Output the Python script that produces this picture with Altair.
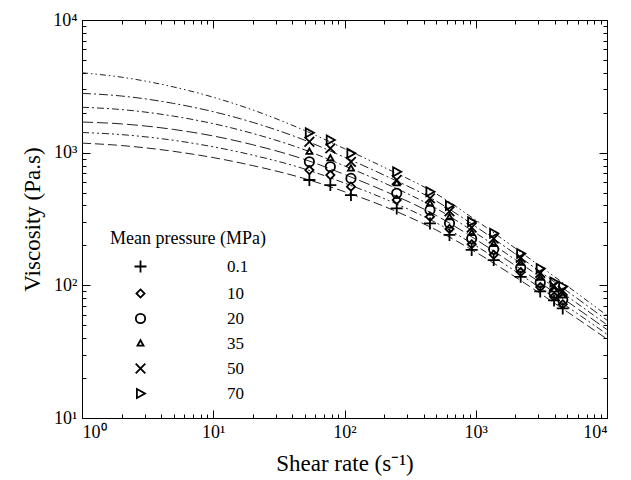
import altair as alt
import pandas as pd

# ---------------- data ----------------
pressures = ["0.1", "10", "20", "35", "50", "70"]

# fitted curves (dashed lines)
shear_curve = [1, 2, 5, 10, 20, 50, 100, 200, 500, 1000, 2000, 5000, 10000]
curve_01 = [1180, 1132, 1023, 918, 799, 636, 508, 394, 261, 178, 115.6, 63, 39.4]
curve_10 = [1419, 1368, 1239, 1107, 958, 752, 590, 451, 296, 199, 128, 69, 42.8]
curve_20 = [1702, 1648, 1496, 1336, 1147, 887, 685, 516, 336, 222, 141, 75.3, 46.4]
curve_35 = [2198, 2113, 1884, 1655, 1396, 1048, 795, 592, 380, 248, 156, 82.4, 50.4]
curve_50 = [2800, 2673, 2350, 2037, 1692, 1239, 923, 678, 432, 277, 172.6, 90, 54.6]
curve_70 = [4000, 3707, 3126, 2618, 2099, 1466, 1072, 776, 490, 310, 190.5, 98.5, 59.3]

# measured points (markers)
shear_data = [54, 78, 112, 250, 448, 631, 931, 1370, 2200, 3100, 3950, 4600]
data_01 = [622, 570, 479, 380, 293, 240, 185, 155, 116, 90, 77, 67]
data_10 = [739, 678, 554, 440, 329, 266, 204, 170, 126, 97, 82, 72]
data_20 = [854, 783, 640, 494, 369, 294, 225, 187, 136, 105, 87.5, 78]
data_35 = [1016, 906, 760, 588, 414, 326, 248, 205, 148, 114, 93, 84]
data_50 = [1208, 1077, 853, 622, 452, 361, 273, 225, 161, 124, 99, 91]
data_70 = [1413, 1245, 988, 718, 507, 400, 301, 247, 174, 134, 106, 98]

x_decades = [1, 10, 100, 1000, 10000]
y_decades = [10, 100, 1000, 10000]
x_minor = [2, 3, 4, 5, 6, 7, 8, 9, 20, 30, 40, 50, 60, 70, 80, 90,
           200, 300, 400, 500, 600, 700, 800, 900,
           2000, 3000, 4000, 5000, 6000, 7000, 8000, 9000]
y_minor = [20, 30, 40, 50, 60, 70, 80, 90, 200, 300, 400, 500, 600, 700, 800, 900,
           2000, 3000, 4000, 5000, 6000, 7000, 8000, 9000]

# ---------------- tables ----------------
curves = {"0.1": curve_01, "10": curve_10, "20": curve_20,
          "35": curve_35, "50": curve_50, "70": curve_70}
points = {"0.1": data_01, "10": data_10, "20": data_20,
          "35": data_35, "50": data_50, "70": data_70}

curve_df = pd.DataFrame([
    {"fit": "fit " + p, "shear": s, "visc": v}
    for p in pressures for s, v in zip(shear_curve, curves[p])
])
point_df = pd.DataFrame([
    {"pressure": p, "shear": s, "visc": v}
    for p in pressures for s, v in zip(shear_data, points[p])
])

FONT = "'Liberation Serif', 'Times New Roman', Times, serif"
plus_path = "M-1,0L1,0M0,-1L0,1"
diamond_path = "M0,-0.68L0.68,0L0,0.68L-0.68,0Z"
circle_path = "M-0.78,0A0.78,0.78 0 1,0 0.78,0A0.78,0.78 0 1,0 -0.78,0Z"
tri_up_path = "M0,-0.55L0.5,0.35L-0.5,0.35Z"
x_path = "M-0.8,-0.8L0.8,0.8M-0.8,0.8L0.8,-0.8"
tri_right_path = "M-0.6,-0.75L0.75,0L-0.6,0.75Z"
shape_range = [plus_path, diamond_path, circle_path, tri_up_path, x_path, tri_right_path]
dash_range = [[9, 4], [7, 3, 2, 3, 2, 3], [11, 4], [7, 3, 2, 3], [9, 3, 2, 3], [6, 3, 1.5, 3, 1.5, 3]]

xscale = alt.Scale(type="log", domain=[1, 10000], nice=False)
yscale = alt.Scale(type="log", domain=[10, 10000], nice=False)

label_expr = "'10' + ['\u2070','\u00b9','\u00b2','\u00b3','\u2074'][round(log(datum.value)/LN10)]"

x_label_axis = alt.Axis(orient="bottom", values=x_decades, labelExpr=label_expr,
                        ticks=False, domain=False, grid=False,
                        title="Shear rate (s\u207b\u00b9)", labelFont=FONT, labelFontSize=18,
                        labelColor="black", titleFont=FONT, titleFontSize=23,
                        titleFontWeight="normal", titleColor="black",
                        labelPadding=5, titlePadding=11)
y_label_axis = alt.Axis(orient="left", values=y_decades, labelExpr=label_expr,
                        ticks=False, domain=False, grid=False,
                        title="Viscosity (Pa.s)", labelFont=FONT, labelFontSize=18,
                        labelColor="black", titleFont=FONT, titleFontSize=23,
                        titleFontWeight="normal", titleColor="black",
                        labelPadding=5, titlePadding=8)


def tick_axis(orient, values, size):
    return alt.Axis(orient=orient, values=values, labels=False, domain=False,
                    grid=False, ticks=True, tickSize=size, offset=-size,
                    tickColor="black", tickWidth=1, title=None)


lines = alt.Chart(curve_df).mark_line(strokeWidth=1, color="#222222",
                                      interpolate="monotone").encode(
    x=alt.X("shear:Q", scale=xscale, axis=x_label_axis),
    y=alt.Y("visc:Q", scale=yscale, axis=y_label_axis),
    strokeDash=alt.StrokeDash("fit:N",
                              scale=alt.Scale(domain=["fit " + p for p in pressures],
                                              range=dash_range),
                              legend=None),
)

legend = alt.Legend(orient="none", legendX=28, legendY=210,
                    title="Mean pressure (MPa)", titleFont=FONT, titleFontSize=18,
                    titleFontWeight="normal", titleColor="black", titlePadding=10,
                    labelFont=FONT, labelFontSize=17, labelColor="black",
                    labelOffset=78, symbolOffset=22, rowPadding=7,
                    symbolSize=144, symbolStrokeColor="black", symbolStrokeWidth=1.8)

markers = alt.Chart(point_df).mark_point(filled=False, color="black", size=144,
                                         strokeWidth=1.8, opacity=1).encode(
    x=alt.X("shear:Q", scale=xscale, axis=None),
    y=alt.Y("visc:Q", scale=yscale, axis=None),
    shape=alt.Shape("pressure:N", scale=alt.Scale(domain=pressures, range=shape_range),
                    legend=legend),
)


def tick_layer(xo, xv, xs, yo, yv, ys):
    return alt.Chart(point_df).mark_point(opacity=0).encode(
        x=alt.X("shear:Q", scale=xscale, axis=tick_axis(xo, xv, xs)),
        y=alt.Y("visc:Q", scale=yscale, axis=tick_axis(yo, yv, ys)),
    )


t1 = tick_layer("bottom", x_decades, 8, "left", y_decades, 8)
t2 = tick_layer("bottom", x_minor, 4, "left", y_minor, 4)
t3 = tick_layer("top", x_decades, 8, "right", y_decades, 8)
t4 = tick_layer("top", x_minor, 4, "right", y_minor, 4)

chart = alt.layer(lines, markers, t1, t2, t3, t4).resolve_axis(
    x="independent", y="independent"
).properties(
    width=525, height=398,
    autosize=alt.AutoSizeParams(type="none"),
    padding={"left": 74, "top": 12, "right": 10, "bottom": 60},
    background="white",
).configure(font=FONT).configure_view(stroke="black", strokeWidth=1)

chart.save("out.html", embed_options={"renderer": "svg", "actions": False})
